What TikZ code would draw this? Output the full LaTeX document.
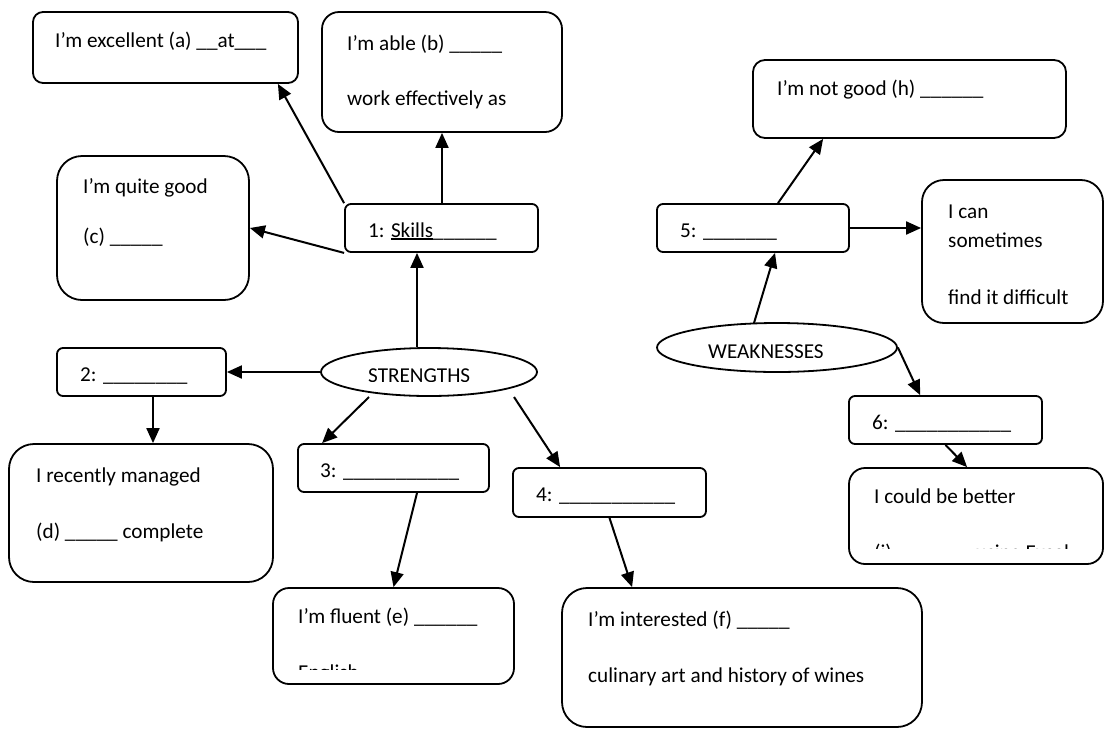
\documentclass[tikz,border=0pt]{standalone}
\usepackage{fontspec}
\setmainfont{Carlito}
\usetikzlibrary{arrows.meta,shapes.geometric,calc}
\newcommand\myul[1]{\setbox0\hbox{#1}\rlap{\rule[-2.6pt]{\wd0}{1.2pt}}\box0}
\tikzset{
  box/.style={draw, line width=1.8pt, rounded corners=#1, inner sep=0pt},
  box/.default=6pt,
  oval/.style={draw, ellipse, line width=1.8pt, inner sep=0pt},
  txt/.style={inner sep=0pt, anchor=base west, font=\fontsize{21.2pt}{28pt}\selectfont},
  arr/.style={line width=2pt, -{Triangle[length=15pt,width=13pt]}}
}
\begin{document}
\begin{tikzpicture}[x=1pt,y=-1pt]
\useasboundingbox[fill=white] (0,0) rectangle (1105,729);
% boxes
\node[box=10pt, minimum width=265pt, minimum height=71pt] (bA) at (165.5,47.5) {};
\node[box=17pt, minimum width=240pt, minimum height=120pt] (bB) at (442,72) {};
\node[box=25pt, minimum width=192pt, minimum height=144pt] (bC) at (153,228) {};
\node[box, minimum width=193pt, minimum height=48pt] (bS) at (441.5,228) {};
\node[box, minimum width=169pt, minimum height=48pt] (b2) at (141.5,372) {};
\node[box=25pt, minimum width=264pt, minimum height=138pt] (bd) at (141,513) {};
\node[box, minimum width=191pt, minimum height=48pt] (b3) at (393.5,468) {};
\node[box=16pt, minimum width=241pt, minimum height=96pt] (be) at (393.5,636) {};
\node[box, minimum width=193pt, minimum height=49pt] (b4) at (609.5,492.5) {};
\node[box=25pt, minimum width=360pt, minimum height=139pt] (bf) at (742,657.5) {};
\node[box=12pt, minimum width=313pt, minimum height=78pt] (bH) at (909.5,99) {};
\node[box, minimum width=192pt, minimum height=48pt] (b5) at (753,228) {};
\node[box=22pt, minimum width=181pt, minimum height=143pt] (bSo) at (1012.5,251.5) {};
\node[box, minimum width=193pt, minimum height=48pt] (b6) at (945.5,420) {};
\node[box=16pt, minimum width=254pt, minimum height=96pt] (bi) at (976,516) {};
\node[oval, minimum width=216pt, minimum height=48pt] (eS) at (429,372) {};
\node[oval, minimum width=240pt, minimum height=49pt] (eW) at (777,347.5) {};
% texts
\node[txt] (tA) at (55,47) {I’m excellent (a) \_\_at\_\_\_};
\node[txt] (tB1) at (347,50) {I’m able (b) \_\_\_\_\_};
\node[txt] (tB2) at (347,105) {work effectively as};
\node[txt] (tC1) at (83,193) {I’m quite good};
\node[txt] (tC2) at (83,243) {(c) \_\_\_\_\_};
\node[txt] (tS) at (368,237) {1: \myul{Skills}\_\_\_\_\_\_};
\node[txt] (t2) at (80,381) {2: \_\_\_\_\_\_\_\_};
\node[txt] (td1) at (36,482) {I recently managed};
\node[txt] (td2) at (36,538) {(d) \_\_\_\_\_ complete};
\node[txt] (t3) at (320,477) {3: \_\_\_\_\_\_\_\_\_\_\_};
\node[txt] (te1) at (298,623) {I’m fluent (e) \_\_\_\_\_\_};
\node[txt] (t4) at (536,501) {4: \_\_\_\_\_\_\_\_\_\_\_};
\node[txt] (tf1) at (588,626) {I’m interested (f) \_\_\_\_\_};
\node[txt] (tf2) at (588,682) {culinary art and history of wines};
\node[txt] (tH) at (777,95) {I’m not good (h) \_\_\_\_\_\_};
\node[txt] (t5) at (680,237) {5: \_\_\_\_\_\_\_};
\node[txt] (tSo1) at (948,218) {I can};
\node[txt] (tSo2) at (948,247) {sometimes};
\node[txt] (tSo3) at (948,304) {find it difficult};
\node[txt] (t6) at (872,429) {6: \_\_\_\_\_\_\_\_\_\_\_};
\node[txt] (ti1) at (874,503) {I could be better};
\begin{scope}
\clip (270,600) rectangle (520,669);
\node[txt] (te2) at (298,679) {English};
\end{scope}
\begin{scope}
\clip (850,520) rectangle (1100,548.5);
\node[txt] (ti2) at (874,559) {(i) \_\_\_\_\_\_\_ using Excel};
\end{scope}
\begin{scope}
\clip (330,355) rectangle (530,381);
\node[txt] (tSt) at (368,382) {STRENGTHS};
\end{scope}
\begin{scope}
\clip (670,330) rectangle (890,357.3);
\node[txt] (tW) at (708,358.5) {WEAKNESSES};
\end{scope}
% connectors
\draw[arr] ([xshift=0.5pt]bS.north) -- ([xshift=0.5pt]bS.north |- bB.south);
\draw[arr] (bS.north west) -- ([xshift=-21pt]bA.south east);
\draw[arr] (bS.south west) -- (bC.east);
\draw[arr] ([xshift=-12pt]eS.north) -- ([xshift=-12pt]eS.north |- bS.south);
\draw[arr] (eS.west) -- (eS.west -| b2.east);
\draw[arr] ([xshift=11.5pt]b2.south) -- ([xshift=11.5pt]b2.south |- bd.north);
\draw[arr] ($(eS.center)+(-60,25)$) -- ([xshift=25pt]b3.north west);
\draw[arr] ($(eS.center)+(85,25)$) -- ([xshift=48pt]b4.north west);
\draw[arr] ([xshift=23.5pt]b3.south) -- (be.north);
\draw[arr] (b4.south) -- ([xshift=71pt]bf.north west);
\draw[arr] ($(eW.center)+(-23,-24.5)$) -- ([xshift=22pt]b5.south);
\draw[arr] ([xshift=25pt]b5.north) -- ([xshift=71pt]bH.south west);
\draw[arr] (b5.east) -- (b5.east -| bSo.west);
\draw[arr] (eW.east) -- ([xshift=72pt]b6.north west);
\draw[arr] (b6.south) -- ([xshift=119pt]bi.north west);
\end{tikzpicture}
\end{document}
